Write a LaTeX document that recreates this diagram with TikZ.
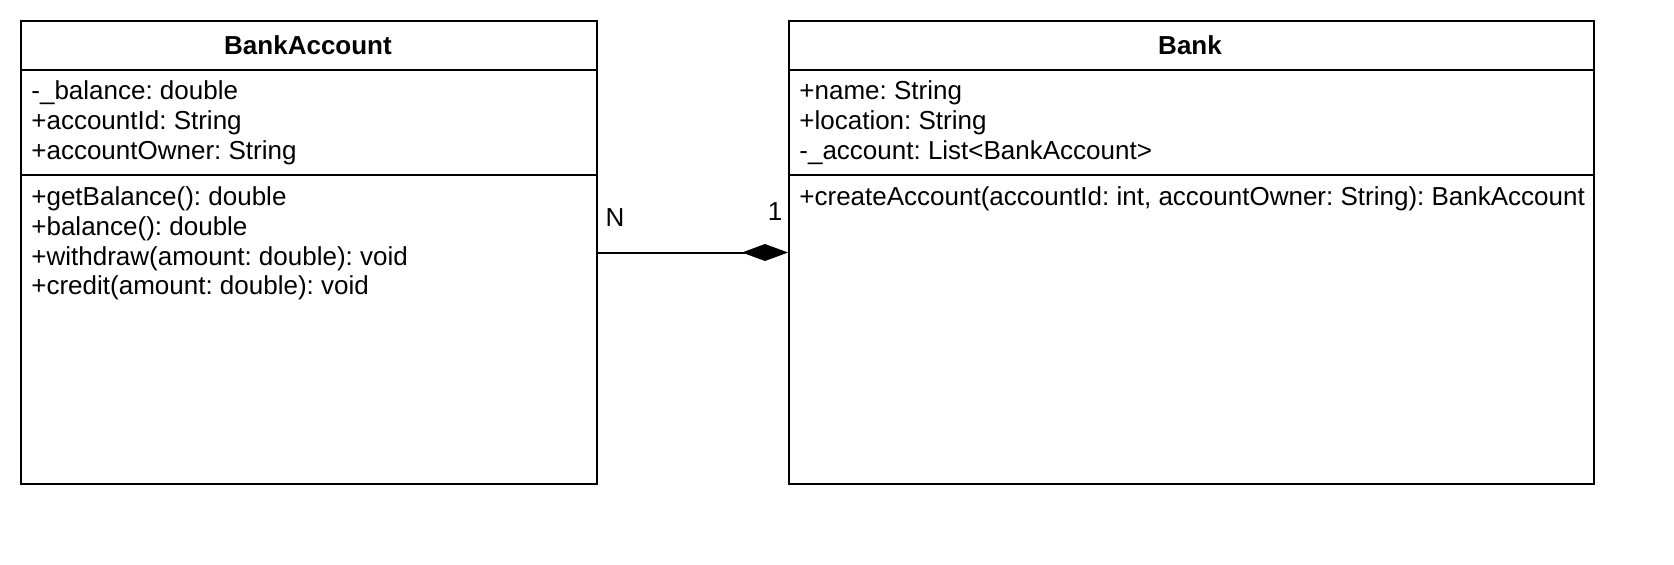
\documentclass[tikz,border=0pt]{standalone}
\usepackage{fontspec}
\setmainfont{Liberation Sans}
\usetikzlibrary{arrows.meta}
\frenchspacing
\tikzset{
  classbox/.style={draw, line width=1pt, anchor=north west, inner sep=0pt, minimum height=231.5pt},
  member/.style={anchor=base west, inner sep=0pt, font=\fontsize{13}{15}\selectfont},
  classname/.style={anchor=base, inner sep=0pt, font=\fontsize{13}{15}\selectfont\bfseries},
  multi/.style={anchor=center, inner sep=0pt, font=\fontsize{13}{15}\selectfont},
  composition/.style={line width=1pt, -{Diamond[length=23pt,width=8.5pt]}}
}
\begin{document}
\begin{tikzpicture}[x=0.5pt,y=-0.5pt]
\useasboundingbox (0,0) rectangle (1674,564);

% BankAccount:
\node[classbox, minimum width=288pt] (ba) at (20,20) {};
\draw[line width=1pt] (ba.west |- 0,70) -- (ba.east |- 0,70);
\draw[line width=1pt] (ba.west |- 0,175) -- (ba.east |- 0,175);
\node[classname] (ba-name) at (308,54) {BankAccount};
\node[member] (ba-a1) at (31,99) {-\_balance: double};
\node[member] (ba-a2) at (31,129) {+accountId: String};
\node[member] (ba-a3) at (31,159) {+accountOwner: String};
\node[member] (ba-m1) at (31,205) {+getBalance(): double};
\node[member] (ba-m2) at (31,235) {+balance(): double};
\node[member] (ba-m3) at (31,265) {+withdraw(amount: double): void};
\node[member] (ba-m4) at (31,294) {+credit(amount: double): void};

% Bank:
\node[classbox, minimum width=402.5pt] (bank) at (788,20) {};
\draw[line width=1pt] (bank.west |- 0,70) -- (bank.east |- 0,70);
\draw[line width=1pt] (bank.west |- 0,175) -- (bank.east |- 0,175);
\node[classname] (bank-name) at (1190,54) {Bank};
\node[member] (bank-a1) at (799,99) {+name: String};
\node[member] (bank-a2) at (799,129) {+location: String};
\node[member] (bank-a3) at (799,159) {-\_account: List<BankAccount>};
\node[member] (bank-m1) at (799,205) {+createAccount(accountId: int, accountOwner: String): BankAccount};

% composition:
\draw[composition] (ba.east) -- (bank.west);
\node[multi] (mult-n) at (615,218) {N};
\node[multi] (mult-1) at (775,212) {1};
\end{tikzpicture}
\end{document}
